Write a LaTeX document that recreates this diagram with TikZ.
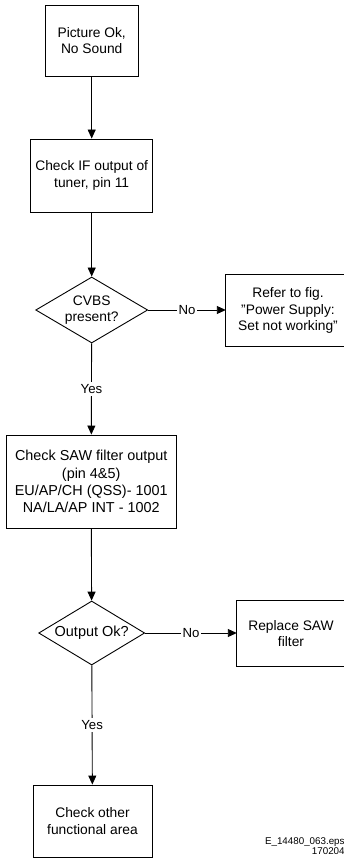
\documentclass[tikz,border=0pt]{standalone}
\usepackage{fontspec}
\setmainfont{Liberation Sans}
\usetikzlibrary{shapes.geometric,arrows.meta}

\begin{document}
\begin{tikzpicture}[x=1pt,y=-1pt,
  every node/.style={font=\fontsize{13.8}{16.6}\selectfont},
  box/.style={draw, line width=0.9pt, rectangle, align=center, inner sep=0pt},
  openbox/.style={rectangle, align=center, inner sep=0pt},
  edge line/.style={line width=0.9pt},
  decision/.style={draw, line width=0.9pt, diamond, aspect=1.7, align=center, inner sep=0pt},
  arr/.style={line width=0.9pt, -{Triangle[length=9pt,width=8pt]}},
  lbl/.style={fill=white, inner sep=2pt, font=\fontsize{13.2}{15.8}\selectfont},
  foot/.style={anchor=base east, inner sep=0pt, font=\fontsize{9.8}{10.3}\selectfont}]

  \useasboundingbox (0,0) rectangle (343,858);

  % main column
  \node[box, minimum width=93pt, minimum height=71pt] (start) at (91.7,40.5)
    {Picture Ok,\\No Sound};
  \node[box, minimum width=122pt, minimum height=73pt] (tuner) at (91.7,175.5)
    {Check IF output of\\tuner, pin 11};
  \node[decision, minimum width=112pt, minimum height=66pt] (cvbs) at (91.7,310)
    {CVBS\\present?};
  \node[box, minimum width=170pt, minimum height=93pt,
        font=\fontsize{14.4}{17.3}\selectfont] (saw) at (91.2,481.5)
    {Check SAW filter output\\(pin 4\&5)\\EU/AP/CH (QSS)- 1001\\NA/LA/AP INT - 1002};
  \node[decision, aspect=1.66, minimum width=106pt, minimum height=64pt,
        font=\fontsize{14.5}{17.4}\selectfont] (outok) at (91.7,633)
    {Output Ok?};
  \node[box, minimum width=119pt, minimum height=72pt] (other) at (92.5,821)
    {Check other\\functional area};

  % side branches: their right sides run off the sheet
  \node[openbox, minimum width=124pt, minimum height=71pt] (refer) at (288,310.5)
    {Refer to fig.\\"Power Supply:\\Set not working"};
  \draw[edge line] (refer.north east) -- (refer.north west)
    -- (refer.south west) -- (refer.south east);
  \node[openbox, minimum width=108pt, minimum height=65pt] (replace) at (291,633.5)
    {Replace SAW\\filter};
  \draw[edge line] (replace.north east) -- (replace.north west)
    -- (replace.south west) -- (replace.south east);

  % connectors
  \draw[arr] (start) -- (tuner);
  \draw[arr] (tuner) -- (cvbs);
  \draw[arr] (cvbs.east) -- node[lbl] {No} (cvbs.east -| refer.west);
  \draw[arr] (cvbs) -- node[lbl] {Yes} (saw);
  \draw[arr] (saw) -- (outok);
  \draw[arr] (outok.east) -- node[lbl] {No} (outok.east -| replace.west);
  \draw[arr] (outok) -- node[lbl] {Yes} (other);

  % file tag
  \node[foot] (tag) at (344.8,844) {E\_14480\_063.eps};
  \node[foot] (date) at (344.8,854.3) {170204};
\end{tikzpicture}
\end{document}
